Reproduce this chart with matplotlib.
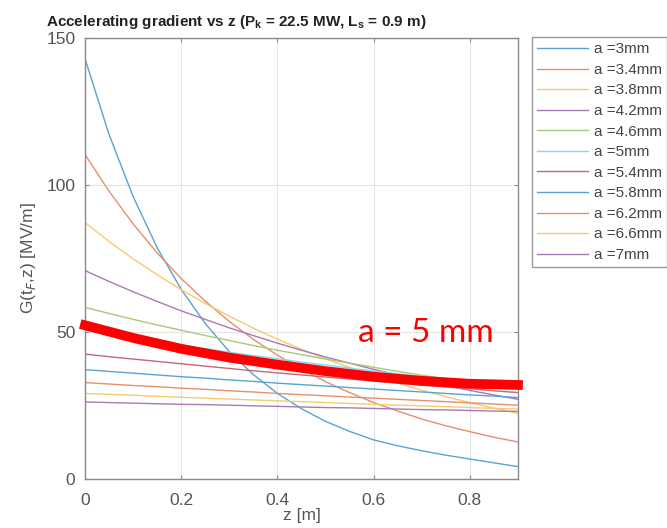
import numpy as np
import matplotlib.pyplot as plt
from matplotlib.colors import to_rgb

plt.rcParams['font.family'] = ['Liberation Sans', 'DejaVu Sans']
plt.rcParams['mathtext.fontset'] = 'custom'
plt.rcParams['mathtext.rm'] = 'Liberation Sans'
plt.rcParams['mathtext.bf'] = 'Liberation Sans:bold'

# 数据
z = np.arange(0, 0.9001, 0.05)
apertures = ['3', '3.4', '3.8', '4.2', '4.6', '5', '5.4', '5.8', '6.2', '6.6', '7']
G = [
    [143.0, 117.2, 96.1, 78.7, 64.5, 52.9, 43.3, 35.5, 29.1, 23.9, 19.6, 16.2, 13.3, 11.3, 9.6, 8.1, 6.8, 5.5, 4.2],
    [110.4, 97.9, 86.8, 76.9, 68.2, 60.5, 53.6, 47.5, 42.1, 37.4, 33.1, 29.4, 26.0, 23.1, 20.4, 18.1, 16.1, 14.2, 12.6],
    [87.2, 80.8, 74.9, 69.5, 64.4, 59.7, 55.4, 51.3, 47.6, 44.1, 40.9, 37.9, 35.1, 32.6, 30.2, 28.0, 26.0, 24.1, 22.3],
    [70.9, 67.2, 63.7, 60.4, 57.2, 54.3, 51.4, 48.8, 46.2, 43.8, 41.5, 39.4, 37.3, 35.4, 33.5, 31.8, 30.1, 28.6, 27.1],
    [58.4, 56.3, 54.3, 52.4, 50.6, 48.8, 47.1, 45.4, 43.8, 42.3, 40.8, 39.4, 38.0, 36.6, 35.3, 34.1, 32.9, 31.7, 30.6],
    [50.6, 49.3, 48.0, 46.7, 45.5, 44.3, 43.1, 42.0, 40.9, 39.8, 38.8, 37.7, 36.7, 35.8, 34.8, 33.9, 33.0, 32.2, 31.3],
    [42.5, 41.6, 40.8, 40.0, 39.2, 38.4, 37.6, 36.8, 36.1, 35.4, 34.7, 34.0, 33.3, 32.6, 31.9, 31.3, 30.7, 30.0, 29.4],
    [37.2, 36.6, 36.0, 35.4, 34.8, 34.3, 33.7, 33.2, 32.6, 32.1, 31.6, 31.1, 30.6, 30.1, 29.6, 29.1, 28.6, 28.2, 27.7],
    [32.8, 32.3, 31.8, 31.4, 30.9, 30.5, 30.0, 29.6, 29.1, 28.7, 28.3, 27.9, 27.5, 27.1, 26.7, 26.3, 25.9, 25.5, 25.1],
    [29.1, 28.8, 28.5, 28.1, 27.8, 27.5, 27.2, 26.9, 26.6, 26.3, 26.0, 25.7, 25.4, 25.1, 24.9, 24.6, 24.3, 24.0, 23.8],
    [26.2, 26.0, 25.8, 25.6, 25.4, 25.3, 25.1, 24.9, 24.7, 24.5, 24.3, 24.2, 24.0, 23.8, 23.6, 23.5, 23.3, 23.1, 23.0],
]

# 手绘的红色高亮线 (a = 5 mm)
z_hl = [0, 0.1, 0.2, 0.3, 0.4, 0.5, 0.6, 0.7, 0.8, 0.9]
G_hl = [52.3, 48.0, 44.3, 41.3, 38.9, 36.7, 34.8, 33.4, 32.4, 32.0]

matlab_colors = ['#0072BD', '#D95319', '#EDB120', '#7E2F8E', '#77AC30', '#4DBEEE', '#A2142F']


def faded(c, amount=0.35):
    r, g, b = to_rgb(c)
    return (r + (1 - r) * amount, g + (1 - g) * amount, b + (1 - b) * amount)


fig = plt.figure(figsize=(6.67, 5.28), dpi=100)
ax = fig.add_axes([0.1274, 0.0928, 0.6492, 0.8352])

for i, (a, g) in enumerate(zip(apertures, G)):
    ax.plot(z, g, color=faded(matlab_colors[i % 7]), lw=1.0, label='a =' + a + 'mm')

ax.plot(z_hl, G_hl, color='#ff0000', lw=7, solid_capstyle='projecting', clip_on=False, zorder=5)
ax.text(0.709, 49.7, 'a = 5 mm', color='#ff0000', fontsize=24, family=['Lato', 'DejaVu Sans'],
        ha='center', va='center', zorder=6)

ax.set_xlim(0, 0.9)
ax.set_ylim(0, 150)
ax.set_xticks([0, 0.2, 0.4, 0.6, 0.8])
ax.set_xticklabels(['0', '0.2', '0.4', '0.6', '0.8'])
ax.set_yticks([0, 50, 100, 150])
ax.grid(True, color='#e4e4e4', lw=0.8)
ax.set_axisbelow(True)
ax.tick_params(direction='in', colors='#8a8a8a', labelcolor='#555555', labelsize=12.5, length=3)
ax.tick_params(axis='x', top=True, pad=10)
ax.tick_params(axis='y', right=True, pad=7)
for s in ax.spines.values():
    s.set_color('#8a8a8a')
    s.set_linewidth(1.0)

ax.set_xlabel('z [m]', fontsize=12.5, color='#555555', labelpad=0)
ax.set_ylabel('G(t$_F$,z) [MV/m]', fontsize=12.5, color='#555555', labelpad=6)

fig.text(0.354, 0.958, 'Accelerating gradient vs z (P$_\\mathbf{k}$ = 22.5 MW, L$_\\mathbf{s}$ = 0.9 m)',
         fontsize=11, fontweight='bold', ha='center', va='center', color='#222222')

leg = fig.legend(loc='upper left', bbox_to_anchor=(0.7976, 0.930), borderaxespad=0,
                 fontsize=11, handlelength=3.3, labelspacing=0.43, handletextpad=0.4,
                 fancybox=False, framealpha=1, edgecolor='#9a9a9a', borderpad=0.35)
leg.get_frame().set_linewidth(1.0)
for t in leg.get_texts():
    t.set_color('#444444')

fig.savefig('out.png', dpi=100)
